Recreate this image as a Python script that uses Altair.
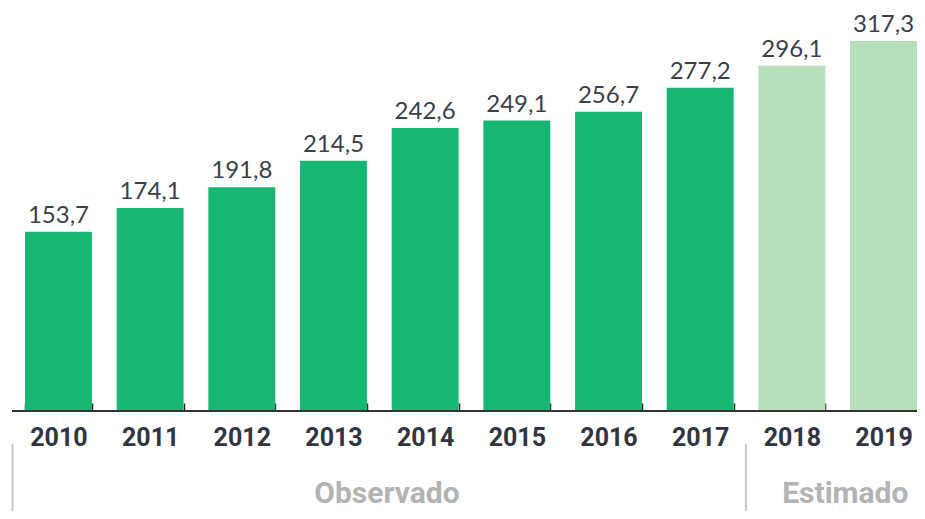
import altair as alt
import pandas as pd

years = ["2010", "2011", "2012", "2013", "2014", "2015", "2016", "2017", "2018", "2019"]
values = [153.7, 174.1, 191.8, 214.5, 242.6, 249.1, 256.7, 277.2, 296.1, 317.3]
status = ["Observado"] * 8 + ["Estimado"] * 2

group_labels = ["Observado", "Estimado"]
group_anchor = ["2013", "2018"]      # label sits just after this band
sep_years = ["2010", "2018"]          # separators before these bands

df = pd.DataFrame({
    "year": years,
    "value": values,
    "status": status,
    "label": [f"{v:.1f}".replace(".", ",") for v in values],
})
groups = pd.DataFrame({"year": group_anchor, "group": group_labels})
seps = pd.DataFrame({"year": sep_years})

W, H = 905, 403
xscale = alt.Scale(domain=years, range=[13, 905], paddingInner=0.27, paddingOuter=0)
yscale = alt.Scale(domain=[0, 345.6], nice=False, zero=True)

x_axis = alt.Axis(
    title=None, labelAngle=0, labelFont="Roboto", labelFontWeight="bold",
    labelFontSize=25, labelColor="#303541", labelPadding=22,
    tickBand="extent", tickSize=alt.ExprRef(expr="-8"), tickColor="#222222",
    tickWidth=1.5, domain=False, grid=False,
)

bars = alt.Chart(df).mark_bar().encode(
    x=alt.X("year:N", scale=xscale, axis=x_axis, sort=years),
    y=alt.Y("value:Q", scale=yscale, axis=None),
    color=alt.Color("status:N", scale=alt.Scale(domain=["Observado", "Estimado"],
                                                range=["#18b673", "#b7dfbc"]), legend=None),
)

baseline = alt.Chart(df).mark_rule(color="#333333", strokeWidth=2).encode(
    x=alt.value(0), x2=alt.value(W), y=alt.value(H),
)

value_text = alt.Chart(df).mark_text(
    font="Lato", fontSize=24, color="#3a3f4b", baseline="alphabetic", dy=-9,
).encode(
    x=alt.X("year:N", scale=xscale, sort=years),
    y=alt.Y("value:Q", scale=yscale),
    text="label:N",
)

group_text = alt.Chart(groups).mark_text(
    font="Roboto", fontWeight="bold", fontSize=30, color="#b3b3b3",
    baseline="alphabetic", align="center", xOffset=20,
).encode(
    x=alt.X("year:N", scale=xscale, sort=years, bandPosition=1),
    y=alt.value(495),
    text="group:N",
)

sep_rules = alt.Chart(seps).mark_rule(color="#c6c6c6", strokeWidth=2, xOffset=-12.5).encode(
    x=alt.X("year:N", scale=xscale, sort=years, bandPosition=0),
    y=alt.value(436),
    y2=alt.value(503),
)

chart = alt.layer(bars, baseline, value_text, group_text, sep_rules).properties(
    width=W, height=H,
    autosize=alt.AutoSizeParams(type="none"),
    padding={"left": 4, "top": 0, "right": 0, "bottom": 100},
).configure_view(stroke=None)

chart.save("out.html", embed_options={"renderer": "svg", "actions": False})
